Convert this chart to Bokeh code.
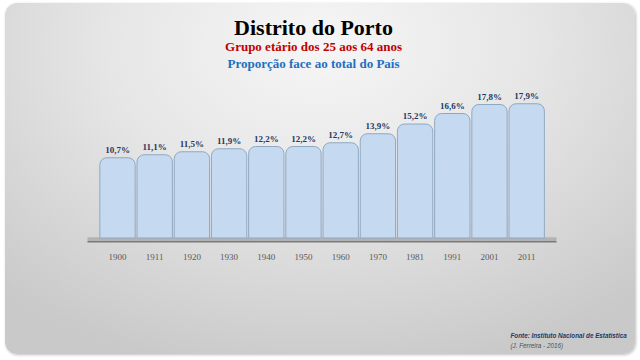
from bokeh.plotting import figure
from bokeh.models import Range1d, ColumnDataSource
from bokeh.core.properties import value
from bokeh.embed import file_html
from bokeh.resources import INLINE

years = ["1900", "1911", "1920", "1930", "1940", "1950", "1960", "1970", "1981", "1991", "2001", "2011"]
shares = [10.7, 11.1, 11.5, 11.9, 12.2, 12.2, 12.7, 13.9, 15.2, 16.6, 17.8, 17.9]
title = "Distrito do Porto"
subtitle1 = "Grupo etário dos 25 aos 64 anos"
subtitle2 = "Proporção face ao total do País"
source_note = "Fonte: Instituto Nacional de Estatística"
author_note = "(J. Ferreira - 2016)"

W, H = 630, 351
PX_X, PX_Y = 37.2, 7.5
x0 = -112 / PX_X
y1 = 234.5 / PX_Y

p = figure(width=W, height=H, output_backend="svg", toolbar_location=None,
           x_range=Range1d(x0, x0 + W / PX_X), y_range=Range1d(y1 - H / PX_Y, y1),
           min_border=0, border_fill_color=None, background_fill_color=None,
           outline_line_color=None)
p.axis.visible = False
p.grid.visible = False
p.styles = {"background": "radial-gradient(ellipse 75% 95% at 50% 12%, #f6f6f6 0%, #e6e6e6 45%, #c9c9c9 100%)",
            "border-radius": "12px", "box-shadow": "1px 1px 3px rgba(0,0,0,0.25)",
            "position": "relative", "left": "5px", "top": "3px"}

idx = list(range(len(years)))
src = ColumnDataSource(dict(x=idx, top=shares, year=years,
                            lab=[f"{v:.1f}%".replace(".", ",") for v in shares]))

# base platform
p.quad(left=[x0 + 82 / PX_X], right=[x0 + 551 / PX_X], bottom=[-0.5], top=[0.1],
       fill_color="#b3b3b3", line_color=None)
p.segment(x0=[x0 + 82 / PX_X], x1=[x0 + 551 / PX_X], y0=[-0.5], y1=[-0.5],
          line_color="#7a7a7a", line_width=1.5)

p.vbar(x="x", top="top", bottom=0, width=0.95, source=src, fill_color="#c5d9f0",
       line_color="#8fa8c2", line_width=1, border_radius={"top_left": 7, "top_right": 7})

p.text(x="x", y="top", text="lab", source=src, text_align="center", text_baseline="bottom",
       y_offset=-3, text_font=value("Liberation Serif"), text_font_style="bold",
       text_font_size="9px", text_color="#1f3864")
p.text(x="x", y=0, text="year", source=src, text_align="center", text_baseline="middle",
       y_offset=18.5, text_font=value("Liberation Serif"), text_font_size="9px",
       text_color="#595959")

tx = x0 + 308 / PX_X
p.text(x=[tx], y=[y1 - 24 / PX_Y], text=[title], text_align="center",
       text_baseline="alphabetic", text_font=value("Liberation Serif"),
       text_font_style="bold", text_font_size="22px", text_color="#000000")
p.text(x=[tx], y=[y1 - 43 / PX_Y], text=[subtitle1], text_align="center",
       text_baseline="alphabetic", text_font=value("Liberation Serif"),
       text_font_style="bold", text_font_size="13px", text_color="#c00000")
p.text(x=[tx], y=[y1 - 59.5 / PX_Y], text=[subtitle2], text_align="center",
       text_baseline="alphabetic", text_font=value("Liberation Serif"),
       text_font_style="bold", text_font_size="13px", text_color="#1f6fc0")

fx = x0 + 505 / PX_X
p.text(x=[fx], y=[y1 - 332 / PX_Y], text=[source_note], text_align="left",
       text_baseline="alphabetic", text_font=value("Liberation Sans"),
       text_font_style="bold italic", text_font_size="6.3px", text_color="#1f3864")
p.text(x=[fx], y=[y1 - 342 / PX_Y], text=[author_note], text_align="left",
       text_baseline="alphabetic", text_font=value("Liberation Sans"),
       text_font_style="italic", text_font_size="6.3px", text_color="#505050")

html = file_html(p, INLINE).replace("<body>", '<body style="background:#f2f2f2">', 1)
open("out.html", "w").write(html)
